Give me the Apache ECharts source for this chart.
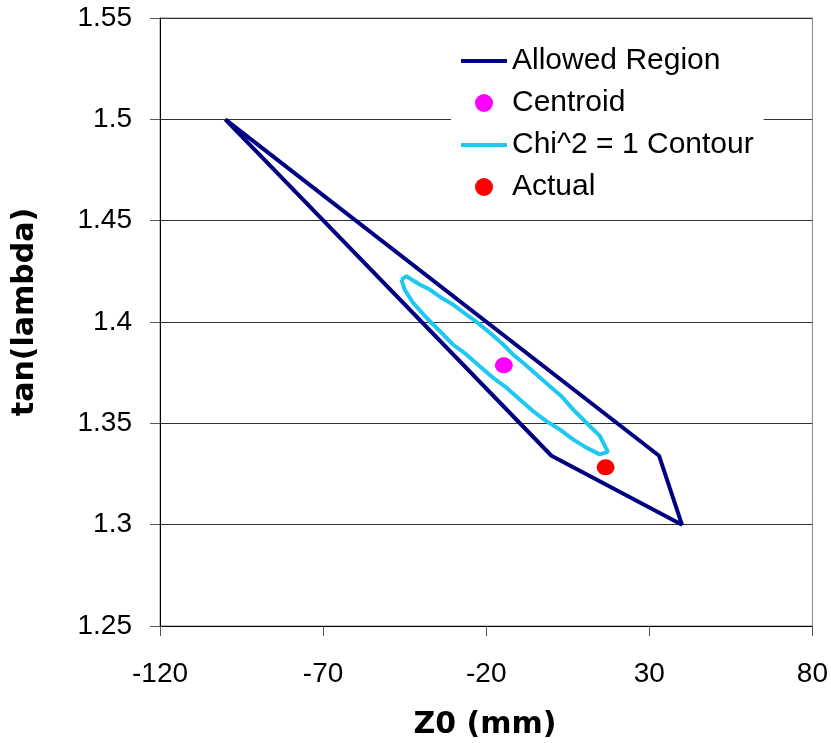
<!DOCTYPE html>
<html>
<head>
<meta charset="utf-8">
<script src="https://cdn.jsdelivr.net/npm/echarts@6/dist/echarts.min.js"></script>
<style>
  html, body { margin: 0; padding: 0; background: #fff; }
  #chart { width: 831px; height: 743px; }
</style>
</head>
<body>
<div id="chart"></div>
<script>
// ---- Data ----
var seriesNames = ['Allowed Region', 'Centroid', 'Chi^2 = 1 Contour', 'Actual'];

var allowedZ0  = [-100, 33, 40, 0, -100];
var allowedTan = [1.5, 1.334, 1.3, 1.334, 1.5];

var centroidZ0  = [-14.6];
var centroidTan = [1.3786];

var contourZ0 = [-46.0, -44.5, -40.4, -37.3, -33.7, -30.2, -26.1, -22.0, -18.9, -14.8, -11.8, -8.7, -4.6, -0.6, 3.0, 6.6, 10.7, 14.8, 17.3,
                 14.8, 10.7, 6.6, 2.5, -1.6, -5.7, -9.7, -13.8, -17.9, -22.0, -26.1, -30.2, -34.2, -38.3, -42.4, -45.0, -46.0];
var contourTan = [1.4209, 1.4226, 1.4185, 1.4160, 1.4119, 1.4086, 1.4037, 1.3988, 1.3947, 1.3889, 1.3840, 1.3799, 1.3741, 1.3684, 1.3635, 1.3569, 1.3503, 1.3438, 1.3359,
                  1.3347, 1.3380, 1.3421, 1.3470, 1.3511, 1.3561, 1.3618, 1.3676, 1.3725, 1.3782, 1.3840, 1.3889, 1.3955, 1.4021, 1.4094, 1.4160, 1.4209];

var actualZ0  = [16.6];
var actualTan = [1.3283];

var xTickLabels = ['-120', '-70', '-20', '30', '80'];
var yTickLabels = ['1.25', '1.3', '1.35', '1.4', '1.45', '1.5', '1.55'];

function zip(xs, ys) { return xs.map(function (x, i) { return [x, ys[i]]; }); }

var chart = echarts.init(document.getElementById('chart'), null, { renderer: 'canvas' });

var labelFont = { fontFamily: 'Liberation Sans', fontSize: 28, color: '#000' };
var lineIcon = 'path://M0,0 H46 V4 H0 Z';

chart.setOption({
  animation: false,
  backgroundColor: '#fff',
  grid: { left: 160, right: 18, top: 18, bottom: 117, show: true, borderColor: '#888', borderWidth: 1, backgroundColor: 'transparent' },
  xAxis: {
    type: 'value', min: -120, max: 80, interval: 50,
    axisLine: { show: true, onZero: false, lineStyle: { color: '#000', width: 1 } },
    axisTick: { show: true, length: 10, lineStyle: { color: '#555' } },
    axisLabel: Object.assign({ margin: 34, formatter: function (v) {
      var i = Math.round((v + 120) / 50); return xTickLabels[i] !== undefined ? xTickLabels[i] : '';
    } }, labelFont),
    splitLine: { show: false }
  },
  yAxis: {
    type: 'value', min: 1.25, max: 1.55, interval: 0.05,
    axisLine: { show: true, onZero: false, lineStyle: { color: '#000', width: 1 } },
    axisTick: { show: true, length: 10, lineStyle: { color: '#555' } },
    axisLabel: Object.assign({ margin: 28, formatter: function (v) {
      var i = Math.round((v - 1.25) / 0.05); return yTickLabels[i] !== undefined ? yTickLabels[i] : '';
    } }, labelFont),
    splitLine: { show: true, lineStyle: { color: '#333', width: 1 } }
  },
  legend: {
    orient: 'vertical',
    left: 451, top: 38,
    padding: [8, 10, 8, 10],
    backgroundColor: '#fff',
    itemWidth: 46, itemHeight: 18, itemGap: 12,
    symbolKeepAspect: true,
    textStyle: { fontFamily: 'Liberation Sans', fontSize: 30, lineHeight: 30, color: '#000' },
    data: [
      { name: seriesNames[0], icon: lineIcon },
      { name: seriesNames[1], icon: 'circle' },
      { name: seriesNames[2], icon: lineIcon },
      { name: seriesNames[3], icon: 'circle' }
    ]
  },
  graphic: [
    { type: 'text', x: 25, y: 312, rotation: Math.PI / 2,
      style: { text: 'tan(lambda)', font: 'bold 30px "DejaVu Sans"', fill: '#000', align: 'center', verticalAlign: 'middle' } },
    { type: 'text', x: 485, y: 725,
      style: { text: 'Z0 (mm)', font: 'bold 30px "DejaVu Sans"', fill: '#000', align: 'center', verticalAlign: 'middle' } }
  ],
  series: [
    { name: seriesNames[0], type: 'line', data: zip(allowedZ0, allowedTan), symbol: 'none',
      lineStyle: { color: '#000080', width: 4 }, itemStyle: { color: '#000080' }, z: 3 },
    { name: seriesNames[1], type: 'scatter', data: zip(centroidZ0, centroidTan), symbol: 'circle', symbolSize: [18, 16],
      itemStyle: { color: '#FF00FF', opacity: 1 }, z: 5 },
    { name: seriesNames[2], type: 'line', data: zip(contourZ0, contourTan), symbol: 'none',
      lineStyle: { color: '#1EC8F0', width: 4 }, itemStyle: { color: '#1EC8F0' }, z: 4 },
    { name: seriesNames[3], type: 'scatter', data: zip(actualZ0, actualTan), symbol: 'circle', symbolSize: [18, 16],
      itemStyle: { color: '#FF0000', opacity: 1 }, z: 5 }
  ]
});
</script>
</body>
</html>
